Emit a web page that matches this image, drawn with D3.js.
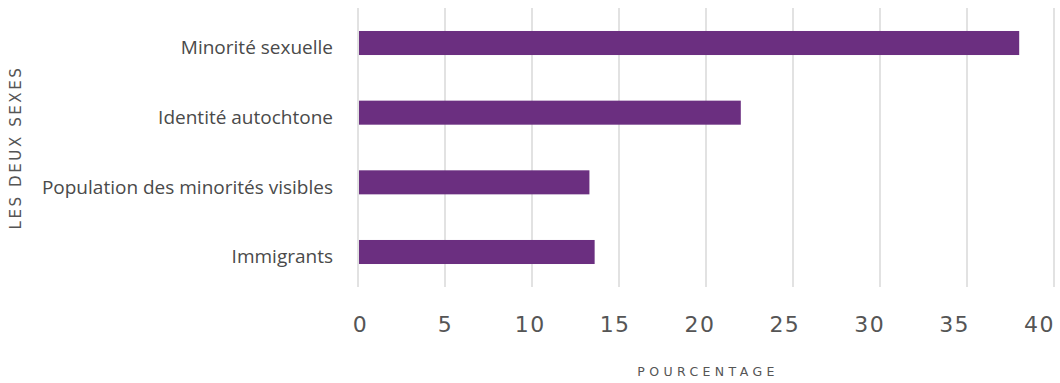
<!DOCTYPE html>
<html>
<head>
<meta charset="utf-8">
<script src="https://cdn.jsdelivr.net/npm/d3@7"></script>
<style>
  html, body { margin: 0; padding: 0; background: #fff; }
  svg { display: block; }
</style>
</head>
<body>
<svg id="chart" width="1060" height="383"></svg>
<script>
// Share (%) by group, both sexes
const categories = ["Minorité sexuelle", "Identité autochtone", "Population des minorités visibles", "Immigrants"];
const values = [38.0, 22.0, 13.3, 13.6];
const tickValues = [0, 5, 10, 15, 20, 25, 30, 35, 40];
const yTitle = "LES DEUX SEXES";
const xTitle = "POURCENTAGE";

const svg = d3.select("#chart");
const plot = { left: 358, right: 1054, top: 8, bottom: 287 };

const x = d3.scaleLinear().domain([0, 40]).range([plot.left, plot.right]);
// tick labels sit on a slightly tighter spread than the grid
const xLabels = d3.scaleLinear().domain([0, 40]).range([360, 1039]);
const y = d3.scaleBand().domain(categories).range([plot.top, plot.bottom]).paddingInner(0.655).paddingOuter(0.33);

// vertical grid
svg.append("g")
  .selectAll("line")
  .data(tickValues)
  .join("line")
  .attr("x1", d => x(d)).attr("x2", d => x(d))
  .attr("y1", plot.top).attr("y2", plot.bottom)
  .attr("stroke", "#d9d9d9")
  .attr("stroke-width", 1.5);

// bars
svg.append("g")
  .selectAll("rect")
  .data(values)
  .join("rect")
  .attr("x", x(0) + 1)
  .attr("y", (d, i) => y(categories[i]))
  .attr("width", d => x(d) - x(0) - 1)
  .attr("height", y.bandwidth())
  .attr("fill", "#6b2f80");

// category labels
const yAxis = svg.append("g")
  .attr("transform", `translate(${plot.left - 25},0)`)
  .call(d3.axisLeft(y).tickSize(0).tickPadding(0));
yAxis.select(".domain").remove();
yAxis.selectAll("text")
  .attr("dy", "0.6em")
  .attr("font-family", "'Open Sans', sans-serif")
  .attr("font-size", "19px")
  .attr("fill", "#4a4a4a");

// value tick labels
const xAxis = svg.append("g")
  .attr("transform", `translate(0,316)`)
  .call(d3.axisBottom(xLabels).tickValues(tickValues).tickSize(0).tickPadding(0));
xAxis.select(".domain").remove();
xAxis.selectAll("text")
  .attr("dy", "0.73em")
  .attr("font-family", "'DejaVu Sans', sans-serif")
  .attr("font-size", "22px")
  .attr("letter-spacing", "1.5px")
  .attr("fill", "#555");

// axis titles
svg.append("text")
  .attr("transform", `translate(21,147.5) rotate(-90)`)
  .attr("text-anchor", "middle")
  .attr("font-family", "'DejaVu Sans', sans-serif")
  .attr("font-size", "15px")
  .attr("letter-spacing", "2.6px")
  .attr("fill", "#555")
  .text(yTitle);

svg.append("text")
  .attr("x", 708)
  .attr("y", 376)
  .attr("text-anchor", "middle")
  .attr("font-family", "'DejaVu Sans', sans-serif")
  .attr("font-size", "12.5px")
  .attr("letter-spacing", "4.4px")
  .attr("fill", "#555")
  .text(xTitle);
</script>
</body>
</html>
